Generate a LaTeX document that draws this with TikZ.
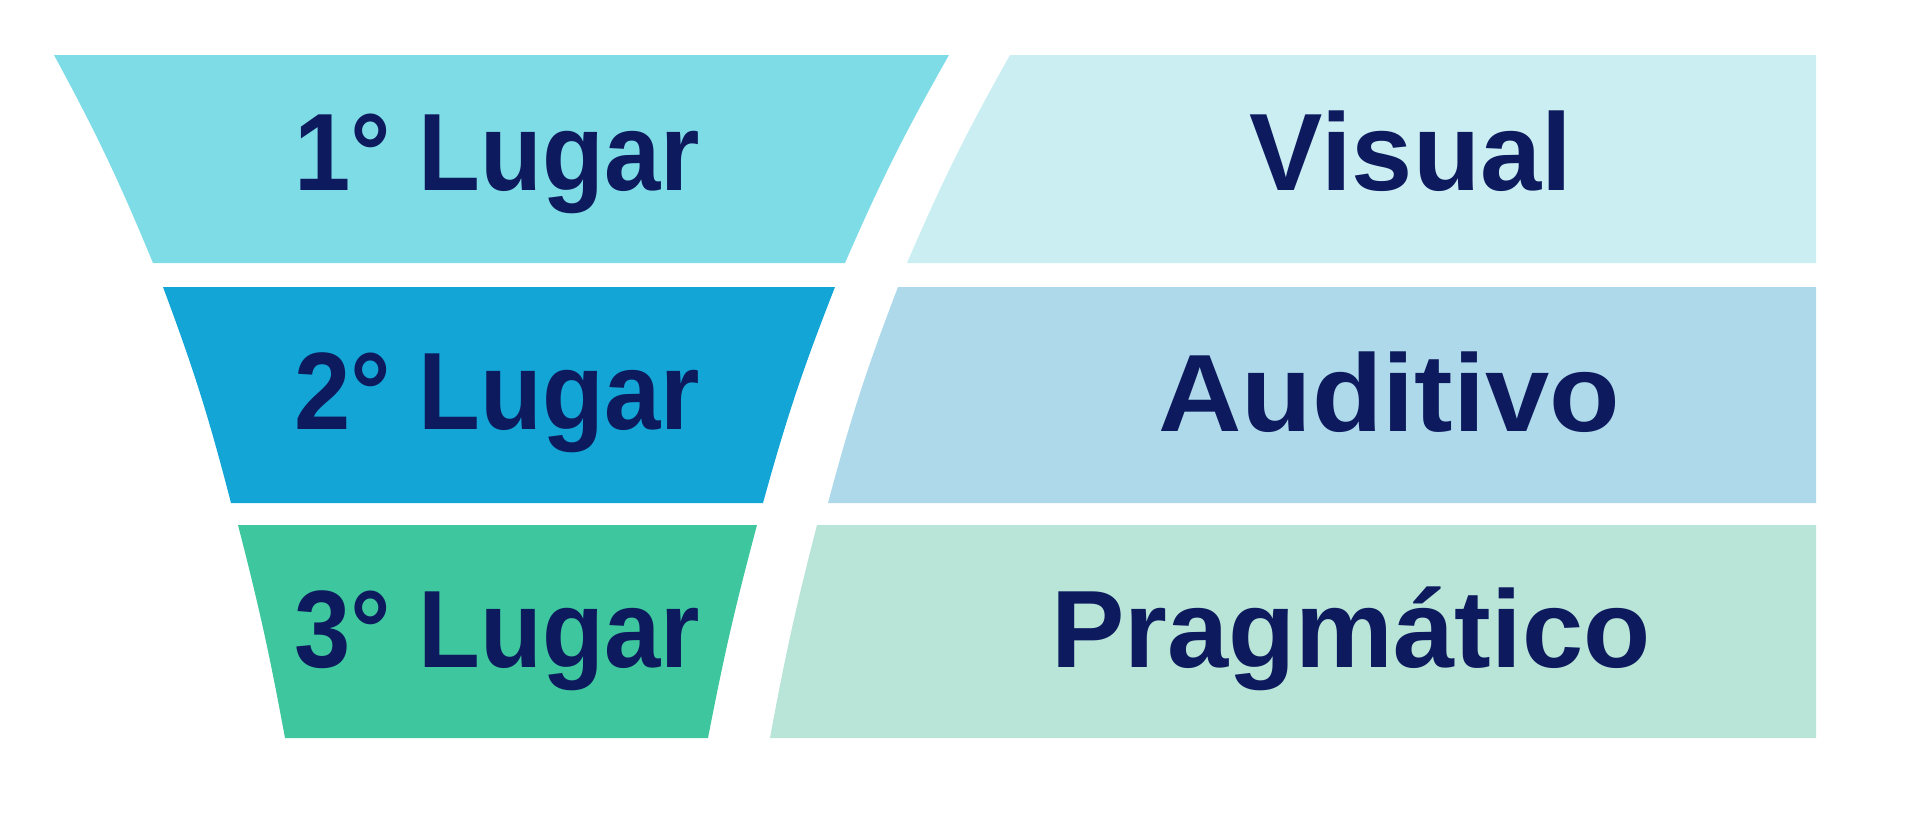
\documentclass[tikz,border=0pt]{standalone}
\usepackage{fontspec}
\setmainfont{Liberation Sans}
\definecolor{tinta}{HTML}{0D1B5E}
\definecolor{funilA}{HTML}{7EDCE6}
\definecolor{funilB}{HTML}{12A5D6}
\definecolor{funilC}{HTML}{3EC79E}
\definecolor{faixaA}{HTML}{CBEEF3}
\definecolor{faixaB}{HTML}{ADD9EB}
\definecolor{faixaC}{HTML}{B9E5D8}
\begin{document}
\begin{tikzpicture}[x=1pt,y=-1pt,
    rotulo/.style={anchor=base,text=tinta,inner sep=0pt,
      font=\fontsize{110}{120}\selectfont\bfseries},
    lugar/.style={rotulo,xscale=0.92}]
        \useasboundingbox (0,0) rectangle (1920,819);
        % funil (esquerda)
        \fill[funilA] (54,55) -- (949,55) to[bend right=3] (845,263) -- (153,263) to[bend right=3] (54,55) -- cycle;
        \fill[funilB] (163,287) -- (835,287) to[bend right=3] (763,503) -- (231,503) to[bend right=3] (163,287) -- cycle;
        \fill[funilC] (238,525) -- (757,525) to[bend right=2] (708,738) -- (285,738) to[bend right=2] (238,525) -- cycle;
        % faixas (direita)
        \fill[faixaA] (1010,55) -- (1816,55) -- (1816,263) -- (907,263) to[bend left=3] (1010,55) -- cycle;
        \fill[faixaB] (898,287) -- (1816,287) -- (1816,503) -- (828,503) to[bend left=3] (898,287) -- cycle;
        \fill[faixaC] (817,525) -- (1816,525) -- (1816,738) -- (770,738) to[bend left=2] (817,525) -- cycle;
        % textos
        \node[lugar] (lugar1) at (497,190) {1° Lugar};
        \node[lugar] (lugar2) at (497,429) {2° Lugar};
        \node[lugar] (lugar3) at (497,667) {3° Lugar};
        \node[rotulo] (visual) at (1411,190) {Visual};
        \node[rotulo,xscale=1.05] (auditivo) at (1389,431) {Auditivo};
        \node[rotulo] (pragmatico) at (1351,667) {Pragmático};
      \end{tikzpicture}
\end{document}
